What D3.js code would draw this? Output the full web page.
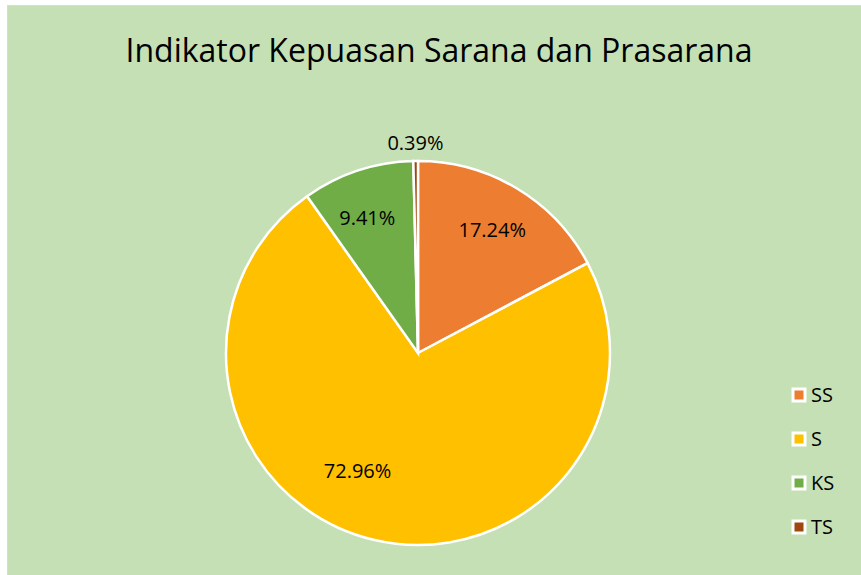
<!DOCTYPE html>
<html>
<head>
<meta charset="utf-8">
<script src="https://cdn.jsdelivr.net/npm/d3@7"></script>
<style>
  body { margin: 0; background: #fff; }
  svg { display: block; }
  text { font-family: "Open Sans", "Noto Sans", sans-serif; fill: #000; }
</style>
</head>
<body>
<div id="chart"></div>
<script>
// Chart data
const categories = ["SS", "S", "KS", "TS"];
const values = [17.24, 72.96, 9.41, 0.39];
const colors = ["#ED7D31", "#FFC000", "#70AD47", "#9E480E"];
const title = "Indikator Kepuasan Sarana dan Prasarana";

const width = 861, height = 575;

const svg = d3.select("#chart")
  .append("svg")
  .attr("width", width)
  .attr("height", height);

// background + border
svg.append("rect")
  .attr("x", 7.5).attr("y", 5.5)
  .attr("width", width).attr("height", height)
  .attr("fill", "#C5E0B4")
  .attr("stroke", "#D9D9D9")
  .attr("stroke-width", 1);

svg.append("text")
  .attr("x", 439)
  .attr("y", 62)
  .attr("text-anchor", "middle")
  .style("font-size", "32px")
  .text(title);

const data = categories.map((c, i) => ({ name: c, value: values[i], color: colors[i] }));

const cx = 418, cy = 353, r = 192;

const pie = d3.pie()
  .sort(null)
  .value(d => d.value);

const arcs = pie(data);
const arc = d3.arc().innerRadius(0).outerRadius(r);

const g = svg.append("g").attr("transform", `translate(${cx},${cy})`);

g.selectAll("path")
  .data(arcs)
  .join("path")
  .attr("d", arc)
  .attr("fill", d => d.data.color)
  .attr("stroke", "#fff")
  .attr("stroke-width", 2.5)
  .attr("stroke-linejoin", "miter");

// data labels, roughly where Excel puts them
function labelPos(d) {
  const mid = (d.startAngle + d.endAngle) / 2;
  let rad = r * 0.75, a = mid;
  if (d.data.value < 2) rad = r + 18;           // tiny slice -> outside
  else if (d.data.value > 50) { rad = r * 0.69; a = mid + 0.24; }
  else if (d.data.value < 12) a = mid - 0.04;
  return [Math.sin(a) * rad, -Math.cos(a) * rad];
}

g.selectAll("text.lbl")
  .data(arcs)
  .join("text")
  .attr("class", "lbl")
  .attr("x", d => labelPos(d)[0])
  .attr("y", d => labelPos(d)[1])
  .attr("dy", "0.35em")
  .attr("text-anchor", "middle")
  .style("font-size", "20px")
  .text(d => d.data.value.toFixed(2) + "%");

// legend
const legendY = d3.scalePoint()
  .domain(categories)
  .range([395, 527]);

const legend = svg.append("g")
  .selectAll("g")
  .data(data)
  .join("g")
  .attr("transform", d => `translate(793,${legendY(d.name)})`);

legend.append("rect")
  .attr("x", 0).attr("y", -6)
  .attr("width", 12).attr("height", 12)
  .attr("fill", d => d.color)
  .attr("stroke", "#fff")
  .attr("stroke-width", 3);

legend.append("text")
  .attr("x", 18)
  .attr("y", 0)
  .attr("dy", "0.35em")
  .style("font-size", "20px")
  .text(d => d.name);
</script>
</body>
</html>
